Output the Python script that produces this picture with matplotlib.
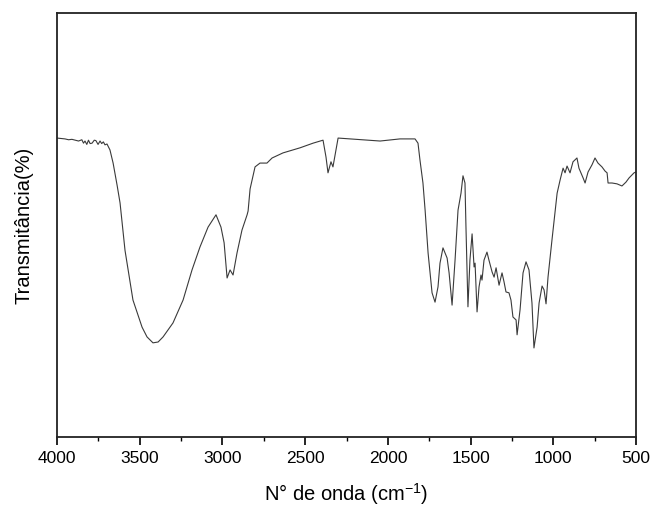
import matplotlib
matplotlib.use("Agg")
import matplotlib.pyplot as plt
from matplotlib.ticker import MultipleLocator

plt.rcParams['font.family'] = ['Liberation Sans', 'DejaVu Sans']
plt.rcParams['mathtext.default'] = 'regular'

# FTIR spectrum (wavenumber cm-1, transmittance a.u.)
wavenumber = [4000, 3975, 3952, 3930, 3910, 3891, 3870, 3850, 3840, 3831, 3820, 3810,
              3800, 3788, 3775, 3765, 3752, 3740, 3730, 3720, 3710, 3698, 3680, 3661,
              3637, 3619, 3589, 3541, 3486, 3456, 3420, 3389, 3359, 3299, 3238, 3184,
              3136, 3087, 3039, 3009, 2990, 2972, 2954, 2936, 2912, 2882, 2851, 2845,
              2833, 2821, 2803, 2773, 2731, 2700, 2634, 2531, 2452, 2392, 2374, 2362,
              2344, 2332, 2301, 2126, 2047, 1927, 1836, 1818, 1806, 1788, 1775, 1757,
              1733, 1715, 1697, 1685, 1667, 1642, 1630, 1612, 1594, 1576, 1558, 1546,
              1534, 1528, 1516, 1504, 1491, 1479, 1473, 1461, 1449, 1437, 1431, 1419,
              1401, 1389, 1370, 1358, 1346, 1328, 1310, 1298, 1286, 1268, 1256, 1244,
              1225, 1219, 1201, 1183, 1165, 1147, 1129, 1117, 1098, 1086, 1068, 1056,
              1044, 1032, 1008, 990, 977, 959, 941, 929, 917, 899, 881, 857,
              845, 820, 808, 790, 766, 748, 730, 706, 687, 675, 669, 645,
              615, 585, 561, 542, 524, 512, 500]
transmittance = [70.5, 70.4, 70.3, 70.1, 70.2, 70.0, 69.8, 70.1, 69.3, 69.8, 69.0, 70.0,
                 69.2, 69.3, 70.0, 69.9, 69.0, 69.8, 69.2, 69.6, 68.9, 69.1, 67.7, 64.6,
                 59.4, 55.2, 44.0, 32.3, 25.9, 23.6, 22.2, 22.4, 23.6, 26.9, 32.3, 39.4,
                 44.8, 49.5, 52.4, 49.5, 45.8, 37.5, 39.4, 38.2, 43.4, 48.8, 52.4, 53.3,
                 58.5, 60.6, 63.7, 64.6, 64.6, 65.8, 67.0, 68.2, 69.3, 70.0, 66.0, 62.3,
                 64.9, 63.7, 70.5, 70.0, 69.8, 70.3, 70.3, 69.3, 65.3, 59.9, 53.5, 43.4,
                 34.0, 31.8, 35.4, 41.0, 44.6, 42.2, 38.7, 31.1, 41.7, 53.5, 57.5, 61.6,
                 59.9, 49.5, 30.7, 41.7, 47.9, 40.1, 41.0, 29.5, 35.4, 38.2, 37.0, 41.7,
                 43.6, 41.7, 38.9, 37.7, 39.9, 35.8, 38.7, 36.6, 34.2, 34.0, 32.3, 28.3,
                 27.6, 24.1, 30.0, 38.7, 41.3, 39.4, 31.6, 21.0, 25.9, 31.6, 35.6, 34.7,
                 31.4, 37.7, 46.5, 52.8, 57.5, 60.6, 63.4, 62.3, 63.9, 62.3, 64.9, 65.8,
                 63.4, 61.1, 59.9, 62.5, 64.2, 65.8, 64.6, 63.7, 62.7, 62.3, 59.9, 59.9,
                 59.7, 59.2, 60.1, 61.1, 61.8, 62.3, 62.5]

xticks = [4000, 3500, 3000, 2500, 2000, 1500, 1000, 500]

fig = plt.figure(figsize=(6.51, 5.09), dpi=100)
ax = fig.add_axes([0.0876, 0.1415, 0.8894, 0.833])
ax.plot(wavenumber, transmittance, color='#3a3a3a', linewidth=0.8)

ax.set_xlim(4000, 500)
ax.set_ylim(0, 100)
ax.set_xticks(xticks)
ax.xaxis.set_minor_locator(MultipleLocator(250))
ax.set_yticks([])
ax.tick_params(axis='x', which='major', direction='out', length=6, width=1.2,
               labelsize=12.5, pad=4)
ax.tick_params(axis='x', which='minor', direction='out', length=3, width=1.0)
for s in ax.spines.values():
    s.set_linewidth(1.3)
    s.set_color('#222222')

ax.set_xlabel('N° de onda (cm$^{-1}$)', fontsize=14.5, labelpad=11)
ax.set_ylabel('Transmitância(%)', fontsize=14.5, labelpad=17)

fig.savefig('out.png', dpi=100)
